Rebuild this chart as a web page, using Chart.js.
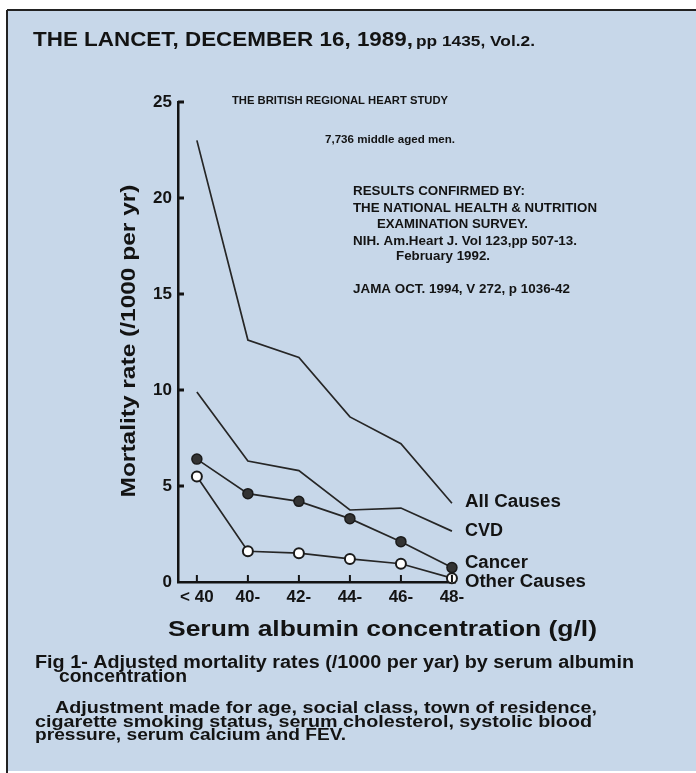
<!DOCTYPE html>
<html>
<head>
<meta charset="utf-8">
<script src="https://cdn.jsdelivr.net/npm/chart.js@4/dist/chart.umd.min.js"></script>
<style>
  html, body { margin: 0; padding: 0; background: #fff; }
  canvas { display: block; }
</style>
</head>
<body>
<canvas id="chart" width="696" height="773"></canvas>
<script>
// 알부민 농도별 사망률 (Lancet 1989)
const categories = ['< 40', '40-', '42-', '44-', '46-', '48-'];
const allCauses = [23.0, 12.6, 11.7, 8.6, 7.2, 4.1];
const cvd = [9.9, 6.3, 5.8, 3.75, 3.85, 2.65];
const cancer = [6.4, 4.6, 4.2, 3.3, 2.1, 0.75];
const otherCauses = [5.5, 1.6, 1.5, 1.2, 0.95, 0.2];
const yTicks = [0, 5, 10, 15, 20, 25];
const seriesNames = ['All Causes', 'CVD', 'Cancer', 'Other Causes'];

const FONT = '"Liberation Sans", Arial, sans-serif';
const INK = '#131313';
const BG = 'rgb(199, 215, 233)';

const toPoints = (arr) => arr.map((v, i) => ({ x: i, y: v }));

// 폭을 맞춰서 글자 그리기
function fitText(ctx, text, x, y, size, width, align) {
    ctx.font = 'bold ' + size + 'px ' + FONT;
    const w = ctx.measureText(text).width;
    const s = width ? width / w : 1;
    ctx.save();
    ctx.translate(x, y);
    ctx.scale(s, 1);
    ctx.textAlign = align || 'left';
    ctx.fillText(text, 0, 0);
    ctx.restore();
}

const pagePlugin = {
    id: 'page',
    beforeDraw(chart) {
        const ctx = chart.ctx;
        ctx.save();
        ctx.fillStyle = '#fff';
        ctx.fillRect(0, 0, chart.width, chart.height);
        ctx.fillStyle = BG;
        ctx.fillRect(7, 10, chart.width - 7, chart.height - 12);
        ctx.strokeStyle = '#222';
        ctx.lineWidth = 2;
        ctx.beginPath();
        ctx.moveTo(7, 10); ctx.lineTo(chart.width, 10);
        ctx.moveTo(7, 10); ctx.lineTo(7, chart.height);
        ctx.stroke();
        ctx.restore();
    },
    afterDraw(chart) {
        const ctx = chart.ctx;
        const xs = chart.scales.x;
        const ys = chart.scales.y;
        ctx.save();
        ctx.strokeStyle = INK;

        // 안쪽 눈금
        ctx.lineWidth = 3;
        yTicks.slice(1).forEach(v => {
            const py = ys.getPixelForValue(v);
            ctx.beginPath();
            ctx.moveTo(xs.left, py);
            ctx.lineTo(xs.left + 6, py);
            ctx.stroke();
        });
        ctx.lineWidth = 2;
        categories.forEach((c, i) => {
            const px = xs.getPixelForValue(i);
            ctx.beginPath();
            ctx.moveTo(px, ys.bottom);
            ctx.lineTo(px, ys.bottom - 7);
            ctx.stroke();
        });

        ctx.fillStyle = INK;
        ctx.textBaseline = 'alphabetic';

        // 제목
        fitText(ctx, 'THE LANCET, DECEMBER 16, 1989,', 33, 46, 21, 380);
        fitText(ctx, 'pp 1435, Vol.2.', 416, 46, 14, 119);

        // 주석
        fitText(ctx, 'THE BRITISH REGIONAL HEART STUDY', 232, 104, 10, 216);
        fitText(ctx, '7,736 middle aged men.', 325, 143, 10, 130);
        fitText(ctx, 'RESULTS CONFIRMED BY:', 353, 195, 12, 172);
        fitText(ctx, 'THE NATIONAL HEALTH & NUTRITION', 353, 212, 12, 244);
        fitText(ctx, 'EXAMINATION SURVEY.', 377, 228, 12, 151);
        fitText(ctx, 'NIH. Am.Heart J. Vol 123,pp 507-13.', 353, 245, 12, 224);
        fitText(ctx, 'February 1992.', 396, 260, 12, 94);
        fitText(ctx, 'JAMA OCT. 1994, V 272, p 1036-42', 353, 293, 12, 217);

        // 시리즈 라벨 (마지막 점 기준)
        const last = categories.length - 1;
        const labelX = xs.getPixelForValue(last) + 13;
        const ends = [allCauses, cvd, cancer, otherCauses].map(a => ys.getPixelForValue(a[last]));
        const offsets = [4, 5, 0, 9];
        const widths = [96, 38, 63, 121];
        seriesNames.forEach((name, i) => {
            fitText(ctx, name, labelX, ends[i] + offsets[i], 18, widths[i]);
        });

        // 축 제목
        ctx.save();
        ctx.translate(129, 341);
        ctx.rotate(-Math.PI / 2);
        ctx.textBaseline = 'middle';
        fitText(ctx, 'Mortality rate (/1000 per yr)', 0, 0, 20, 313, 'center');
        ctx.restore();
        fitText(ctx, 'Serum albumin concentration (g/l)', 168, 636, 22, 429);

        // 캡션
        fitText(ctx, 'Fig 1- Adjusted mortality rates (/1000 per yar) by serum albumin', 35, 668, 18, 599);
        fitText(ctx, 'concentration', 59, 682, 18, 128);
        fitText(ctx, 'Adjustment made for age, social class, town of residence,', 55, 713, 16, 542);
        fitText(ctx, 'cigarette smoking status, serum cholesterol, systolic blood', 35, 727, 16, 557);
        fitText(ctx, 'pressure, serum calcium and FEV.', 35, 740, 16, 311);

        ctx.restore();
    }
};

const lineStyle = {
    borderColor: '#262626',
    borderWidth: 1.7,
    tension: 0,
    clip: false
};

new Chart(document.getElementById('chart'), {
    type: 'line',
    data: {
        datasets: [
            { ...lineStyle, label: seriesNames[0], data: toPoints(allCauses), pointRadius: 0 },
            { ...lineStyle, label: seriesNames[1], data: toPoints(cvd), pointRadius: 0 },
            {
                ...lineStyle, label: seriesNames[2], data: toPoints(cancer),
                pointRadius: 5, pointBackgroundColor: '#333333',
                pointBorderColor: '#1a1a1a', pointBorderWidth: 1.5
            },
            {
                ...lineStyle, label: seriesNames[3], data: toPoints(otherCauses),
                pointRadius: 5, pointBackgroundColor: '#ffffff',
                pointBorderColor: '#1a1a1a', pointBorderWidth: 2
            }
        ]
    },
    options: {
        responsive: false,
        animation: false,
        events: [],
        layout: { padding: { top: 102, right: 241, bottom: 161, left: 0 } },
        plugins: {
            legend: { display: false },
            title: { display: false },
            tooltip: { enabled: false }
        },
        scales: {
            x: {
                type: 'linear',
                min: -0.37,
                max: 5.06,
                afterBuildTicks: (scale) => {
                    scale.ticks = categories.map((c, i) => ({ value: i }));
                },
                afterFit: (scale) => { scale.height = 30; },
                border: { display: true, color: INK, width: 2.5 },
                grid: { display: false, drawOnChartArea: false, drawTicks: false },
                ticks: {
                    padding: 5,
                    color: INK,
                    font: { family: FONT, size: 17, weight: 'bold' },
                    callback: (v) => categories[v]
                }
            },
            y: {
                min: yTicks[0],
                max: yTicks[yTicks.length - 1],
                afterBuildTicks: (scale) => {
                    scale.ticks = yTicks.map(v => ({ value: v }));
                },
                afterFit: (scale) => { scale.width = 178; },
                border: { display: true, color: INK, width: 2.5 },
                grid: { display: false, drawOnChartArea: false, drawTicks: false },
                ticks: {
                    padding: 6,
                    color: INK,
                    font: { family: FONT, size: 17, weight: 'bold' }
                }
            }
        }
    },
    plugins: [pagePlugin]
});
</script>
</body>
</html>
